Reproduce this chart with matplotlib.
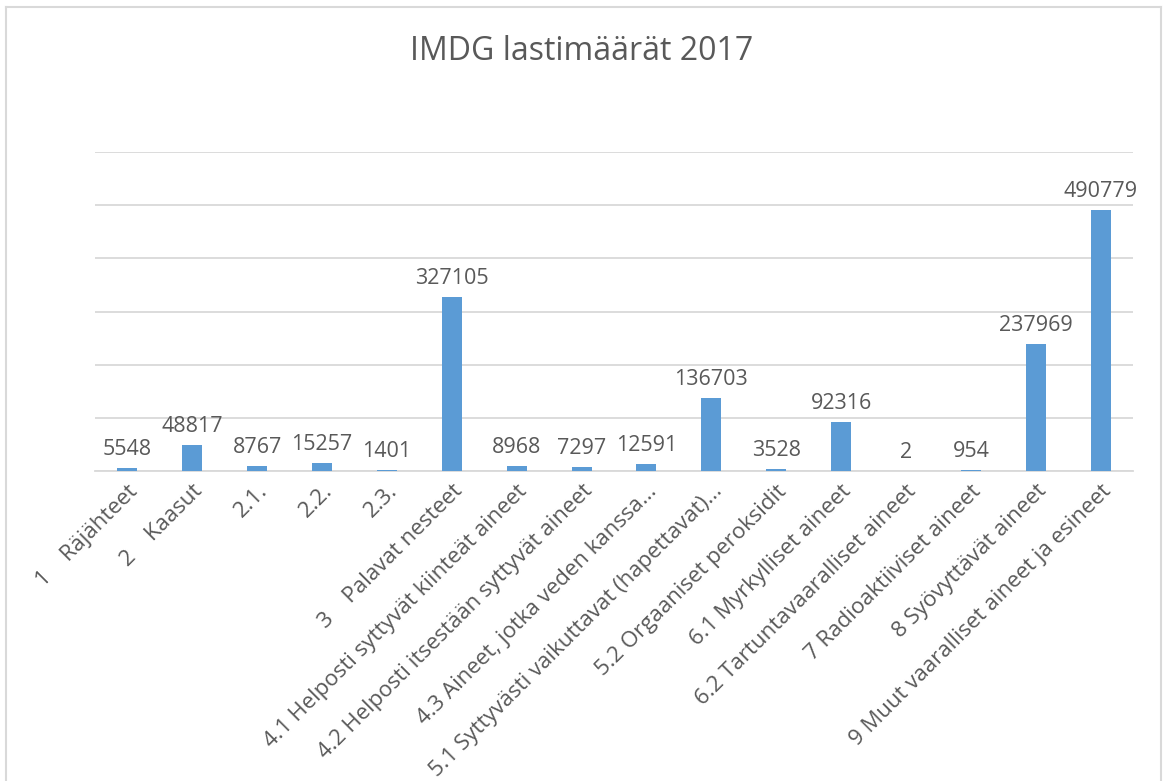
import matplotlib.pyplot as plt
from matplotlib.lines import Line2D

categories = [
    "1    Räjähteet",
    "2    Kaasut",
    "2.1.",
    "2.2.",
    "2.3.",
    "3    Palavat nesteet",
    "4.1 Helposti syttyvät kiinteät aineet",
    "4.2 Helposti itsestään syttyvät aineet",
    "4.3 Aineet, jotka veden kanssa...",
    "5.1 Syttyvästi vaikuttavat (hapettavat)...",
    "5.2 Orgaaniset peroksidit",
    "6.1 Myrkylliset aineet",
    "6.2 Tartuntavaaralliset aineet",
    "7 Radioaktiiviset aineet",
    "8 Syövyttävät aineet",
    "9 Muut vaaralliset aineet ja esineet",
]
values = [5548, 48817, 8767, 15257, 1401, 327105, 8968, 7297, 12591,
          136703, 3528, 92316, 2, 954, 237969, 490779]
title = "IMDG lastimäärät 2017"

text_color = "#595959"
bar_color = "#5B9BD5"
grid_color = "#D9D9D9"

plt.rcParams['font.family'] = ['Open Sans', 'DejaVu Sans']

fig = plt.figure(figsize=(11.63, 7.81), dpi=100)
ax = fig.add_axes([95 / 1163, 1 - 471 / 781, (1133 - 95) / 1163, (471 - 152) / 781])

x = list(range(len(categories)))
ax.bar(x, values, width=0.31, color=bar_color, zorder=3)

for xi, v in zip(x, values):
    ax.annotate(str(v), (xi, v), xytext=(0, 6), textcoords="offset points",
                ha="center", va="bottom", fontsize=15.5, color=text_color)

ax.set_xlim(-0.5, len(categories) - 0.5)
ax.set_ylim(0, 600000)
ax.set_yticks(range(0, 600001, 100000))
ax.yaxis.grid(True, color=grid_color, linewidth=1.3, zorder=0)
ax.tick_params(axis="y", left=False, labelleft=False)
ax.tick_params(axis="x", length=0, pad=7)
for s in ["top", "right", "left"]:
    ax.spines[s].set_visible(False)
ax.spines["bottom"].set_color(grid_color)
ax.spines["bottom"].set_linewidth(1.3)

ax.set_xticks(x)
ax.set_xticklabels(categories, rotation=45, ha="right", rotation_mode="anchor",
                   fontsize=16, color=text_color)

fig.text(0.5, 1 - 51 / 781, title, ha="center", va="center",
         fontsize=23, color=text_color)

# chart area border
bc = "#D9D9D9"
fig.add_artist(Line2D([6 / 1163, 6 / 1163], [0, 1 - 7 / 781], color=bc, lw=1.5,
                      transform=fig.transFigure))
fig.add_artist(Line2D([6 / 1163, 1161 / 1163], [1 - 7 / 781, 1 - 7 / 781], color=bc,
                      lw=1.5, transform=fig.transFigure))
fig.add_artist(Line2D([1161 / 1163, 1161 / 1163], [0, 1 - 7 / 781], color=bc, lw=1.5,
                      transform=fig.transFigure))

fig.savefig("out.png", dpi=100)
